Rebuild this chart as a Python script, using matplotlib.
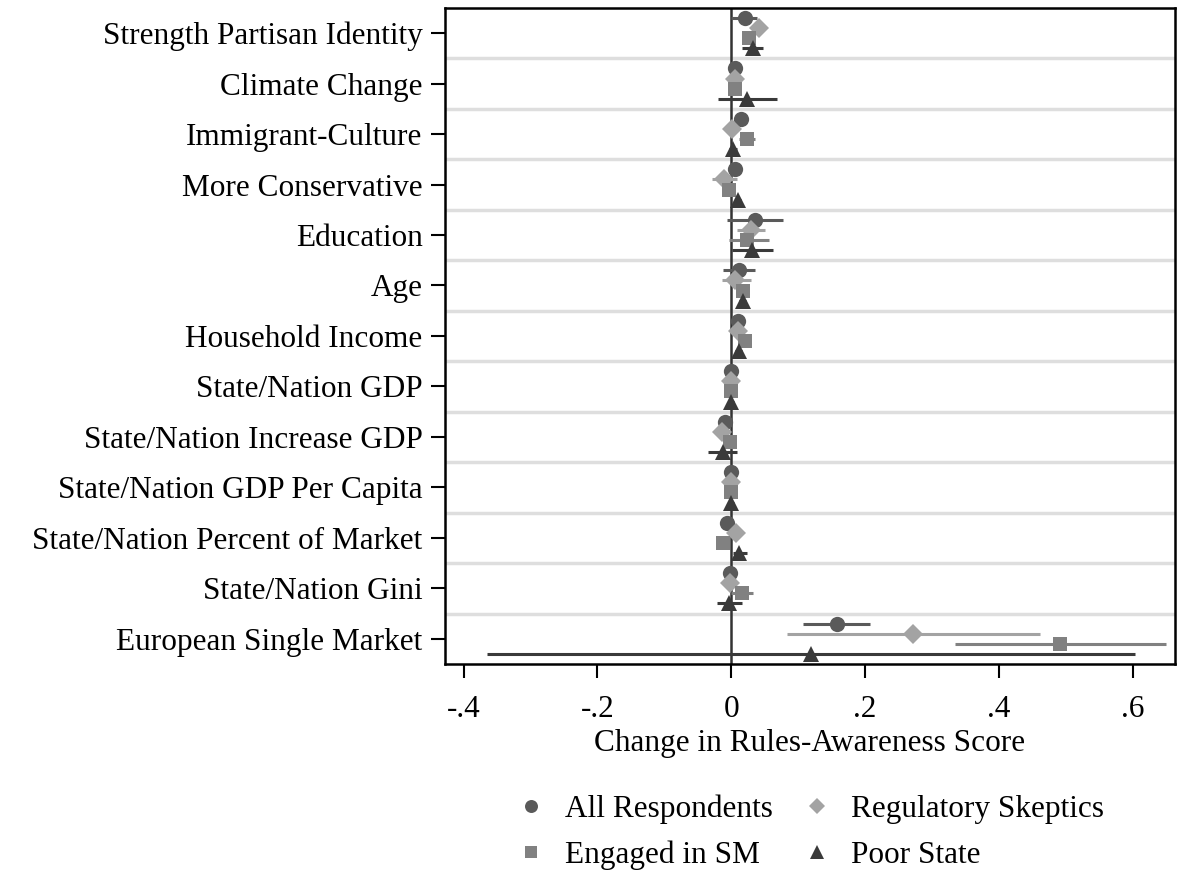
import numpy as np
import matplotlib
matplotlib.use("Agg")
import matplotlib.pyplot as plt

categories = ['Strength Partisan Identity', 'Climate Change', 'Immigrant-Culture',
              'More Conservative', 'Education', 'Age', 'Household Income',
              'State/Nation GDP', 'State/Nation Increase GDP',
              'State/Nation GDP Per Capita', 'State/Nation Percent of Market',
              'State/Nation Gini', 'European Single Market']

# point estimates and 95% CI (low, high) per group
all_est = [0.020, 0.006, 0.015, 0.006, 0.036, 0.011, 0.010, 0.000, -0.009, 0.000, -0.006, -0.002, 0.158]
all_lo = [0.000, 0.001, 0.008, 0.001, -0.006, -0.012, 0.005, -0.004, -0.014, -0.004, -0.011, -0.006, 0.108]
all_hi = [0.039, 0.011, 0.022, 0.011, 0.078, 0.035, 0.015, 0.004, -0.004, 0.004, -0.001, 0.002, 0.208]

skep_est = [0.042, 0.005, 0.001, -0.010, 0.029, 0.006, 0.010, 0.000, -0.014, 0.000, 0.007, -0.002, 0.272]
skep_lo = [0.036, 0.000, -0.005, -0.029, 0.009, -0.014, 0.005, -0.004, -0.019, -0.004, 0.002, -0.007, 0.083]
skep_hi = [0.048, 0.010, 0.007, 0.009, 0.051, 0.030, 0.015, 0.004, -0.009, 0.004, 0.012, 0.003, 0.462]

sm_est = [0.026, 0.005, 0.024, -0.003, 0.024, 0.018, 0.021, 0.000, -0.002, 0.000, -0.012, 0.016, 0.492]
sm_lo = [0.020, 0.000, 0.012, -0.008, -0.004, 0.013, 0.016, -0.004, -0.007, -0.004, -0.017, 0.000, 0.335]
sm_hi = [0.032, 0.010, 0.036, 0.002, 0.056, 0.023, 0.026, 0.004, 0.003, 0.004, -0.007, 0.033, 0.650]

poor_est = [0.032, 0.024, 0.002, 0.010, 0.031, 0.017, 0.011, 0.000, -0.012, 0.000, 0.012, -0.003, 0.120]
poor_lo = [0.016, -0.020, -0.004, 0.005, 0.001, 0.012, 0.006, -0.004, -0.035, -0.004, 0.002, -0.021, -0.365]
poor_hi = [0.048, 0.068, 0.008, 0.015, 0.062, 0.022, 0.016, 0.004, 0.009, 0.004, 0.023, 0.016, 0.603]

groups = [
    ('All Respondents', all_est, all_lo, all_hi, 'o', '#5a5a5a', 11, -0.3),
    ('Regulatory Skeptics', skep_est, skep_lo, skep_hi, 'D', '#a3a3a3', 10, -0.1),
    ('Engaged in SM', sm_est, sm_lo, sm_hi, 's', '#818181', 10.5, 0.1),
    ('Poor State', poor_est, poor_lo, poor_hi, '^', '#3a3a3a', 11.5, 0.3),
]

plt.rcParams['font.family'] = ['Liberation Serif', 'DejaVu Serif']
fs = 22.5

fig = plt.figure(figsize=(11.77, 8.76), dpi=100)
ax = fig.add_axes([0.378, 0.242, 0.620, 0.749])

ypos = np.arange(len(categories))
for y in np.arange(0.5, len(categories) - 1, 1.0):
    ax.axhline(y, color='#dedede', lw=2.5, zorder=0)
ax.axvline(0, color='#333333', lw=1.8, zorder=1)

handles = {}
for name, est, lo, hi, mk, col, ms, off in groups:
    yy = ypos + off
    ax.hlines(yy, lo, hi, color=col, lw=2.2, zorder=2)
    h, = ax.plot(est, yy, linestyle='none', marker=mk, color=col, ms=ms,
                 markeredgewidth=0, zorder=3)
    handles[name] = h

ax.set_ylim(len(categories) - 0.5, -0.5)
ax.set_xlim(-0.428, 0.663)
ax.set_yticks(ypos)
ax.set_yticklabels(categories, fontsize=fs)
ax.set_xticks([-0.4, -0.2, 0, 0.2, 0.4, 0.6])
ax.set_xticklabels(['-.4', '-.2', '0', '.2', '.4', '.6'], fontsize=fs)
ax.tick_params(axis='both', direction='out', length=10, width=1.5, colors='black')
ax.tick_params(axis='y', pad=6)
ax.tick_params(axis='x', pad=12)
for s in ax.spines.values():
    s.set_linewidth(1.8)
ax.set_xlabel('Change in Rules-Awareness Score', fontsize=fs, labelpad=4)

order = ['All Respondents', 'Engaged in SM', 'Regulatory Skeptics', 'Poor State']
leg = fig.legend([handles[k] for k in order], order, ncol=2, loc='center',
                 bbox_to_anchor=(0.688, 0.05), frameon=False, fontsize=fs,
                 markerscale=0.85, handletextpad=0.6, columnspacing=0.9,
                 labelspacing=0.55, handlelength=1.0)

fig.savefig('out.png', dpi=100)
